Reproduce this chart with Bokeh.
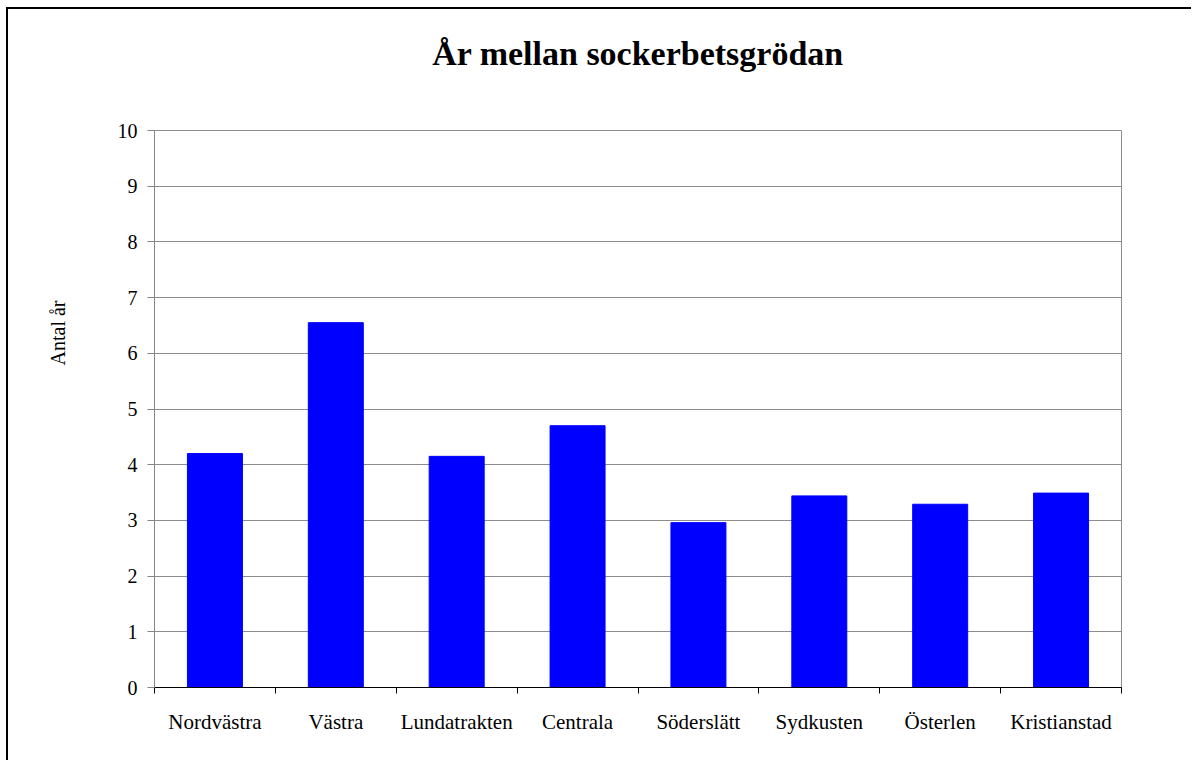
from bokeh.plotting import figure
from bokeh.models import Range1d, FixedTicker, Title, ColumnDataSource
from bokeh.embed import file_html
from bokeh.resources import INLINE

categories = ["Nordvästra", "Västra", "Lundatrakten", "Centrala", "Söderslätt",
              "Sydkusten", "Österlen", "Kristianstad"]
values = [4.2, 6.55, 4.15, 4.7, 2.96, 3.44, 3.29, 3.49]
y_ticks = [0, 1, 2, 3, 4, 5, 6, 7, 8, 9, 10]
title_text = "År mellan sockerbetsgrödan"
y_label = "Antal år"

FONT = "Liberation Serif"

positions = [i + 0.5 for i in range(len(categories))]
source = ColumnDataSource(dict(x=positions, top=values, cat=categories))

p = figure(width=1185, height=753, output_backend="svg", toolbar_location=None,
           x_range=Range1d(0, len(categories)), y_range=Range1d(0, 10),
           min_border_left=146, min_border_right=72, min_border_top=121,
           min_border_bottom=75)
p.title = None
p.styles = {"border-left": "2px solid black", "border-top": "2px solid black",
            "margin-left": "6px", "margin-top": "7px"}

# spacer between frame and title
p.add_layout(Title(text=" ", text_font_size="10px", standoff=46), "above")
p.add_layout(Title(text=title_text, align="center", standoff=0,
                   text_font=FONT, text_font_size="34px", text_font_style="bold",
                   text_color="black"), "above")

p.vbar(x="x", top="top", width=0.455, source=source, color="#0000FF")

# x axis
p.xaxis.ticker = FixedTicker(ticks=positions, minor_ticks=list(range(len(categories) + 1)))
p.xaxis.major_label_overrides = {pos: c for pos, c in zip(positions, categories)}
p.xaxis.major_tick_line_color = None
p.xaxis.major_tick_out = 0
p.xaxis.major_tick_in = 0
p.xaxis.minor_tick_line_color = "black"
p.xaxis.minor_tick_out = 6
p.xaxis.minor_tick_in = 0
p.xaxis.axis_line_color = "black"
p.xaxis.axis_line_width = 1
p.xaxis.major_label_text_font = FONT
p.xaxis.major_label_text_font_size = "21px"
p.xaxis.major_label_text_color = "black"
p.xaxis.major_label_standoff = 16

# y axis
p.yaxis.ticker = FixedTicker(ticks=y_ticks)
p.yaxis.minor_tick_line_color = None
p.yaxis.major_tick_out = 7
p.yaxis.major_tick_in = 0
p.yaxis.major_tick_line_color = "#868686"
p.yaxis.axis_line_color = "#868686"
p.yaxis.major_label_text_font = FONT
p.yaxis.major_label_text_font_size = "20px"
p.yaxis.major_label_text_color = "black"
p.yaxis.major_label_standoff = 10

p.xgrid.grid_line_color = None
p.ygrid.ticker = FixedTicker(ticks=y_ticks)
p.ygrid.grid_line_color = "#8c8c8c"
p.ygrid.grid_line_width = 1

p.outline_line_color = "#8c8c8c"
p.outline_line_width = 1

# spacer between y axis and its label
p.add_layout(Title(text=" ", text_font_size="10px", standoff=33), "left")
p.add_layout(Title(text=y_label, align="left", offset=322, standoff=0,
                   text_font=FONT, text_font_size="20px", text_font_style="normal",
                   text_color="black"), "left")

open("out.html", "w").write(file_html(p, INLINE))
